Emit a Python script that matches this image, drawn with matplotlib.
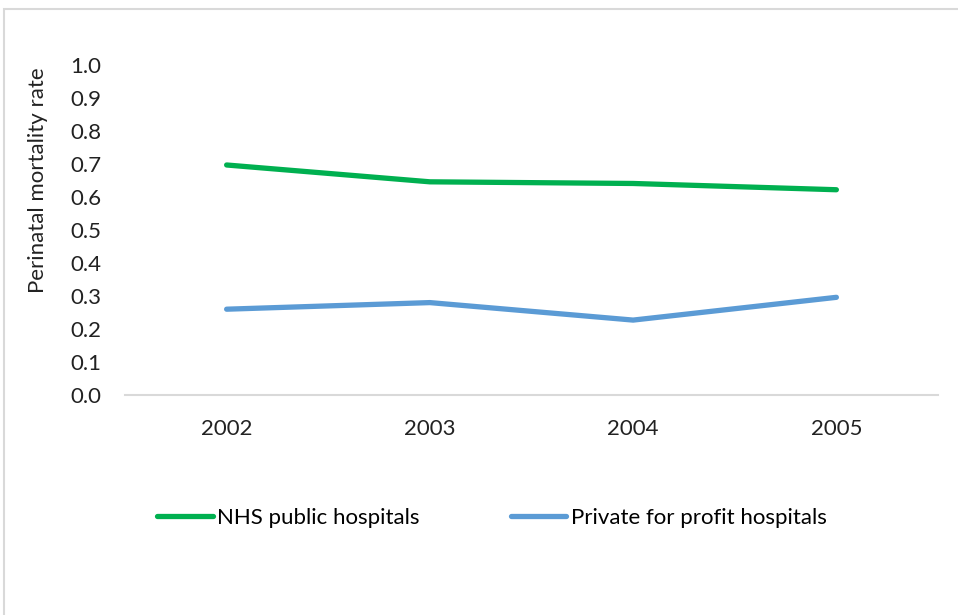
import matplotlib.pyplot as plt
from matplotlib.lines import Line2D
from matplotlib.patches import Rectangle

years = ['2002', '2003', '2004', '2005']
nhs = [0.697, 0.646, 0.641, 0.622]
private = [0.260, 0.280, 0.227, 0.296]
yticks = [0.0, 0.1, 0.2, 0.3, 0.4, 0.5, 0.6, 0.7, 0.8, 0.9, 1.0]

green = '#00B050'
blue = '#5B9BD5'
fs = 16

plt.rcParams['font.family'] = ['Lato', 'DejaVu Sans']

fig = plt.figure(figsize=(9.58, 6.15), dpi=100)
W, H = 958, 615

# outer chart border (light gray, runs off the bottom/right edge)
fig.patches.append(Rectangle((4 / W, -0.1), 1.2, 1 - 9 / H + 0.1, transform=fig.transFigure,
                             fill=False, edgecolor='#d9d9d9', linewidth=1.5))

ax = fig.add_axes([125 / W, 1 - 395 / H, (938 - 125) / W, (395 - 65) / H])
x = range(len(years))
ax.plot(x, nhs, color=green, linewidth=3.8, solid_capstyle='round', solid_joinstyle='round')
ax.plot(x, private, color=blue, linewidth=3.8, solid_capstyle='round', solid_joinstyle='round')

ax.set_xlim(-0.5, len(years) - 0.5)
ax.set_ylim(0, 1.0)
ax.set_xticks(list(x))
ax.set_xticklabels(years)
ax.set_yticks(yticks)
ax.set_yticklabels([f'{v:.1f}' for v in yticks])
ax.tick_params(length=0, labelsize=fs, colors='#222222')
ax.tick_params(axis='x', pad=17)
ax.tick_params(axis='y', pad=17)
for s in ['top', 'right', 'left']:
    ax.spines[s].set_visible(False)
ax.spines['bottom'].set_color('#d9d9d9')
ax.spines['bottom'].set_linewidth(1.5)

fig.text(38 / W, 1 - 180 / H, 'Perinatal mortality rate', rotation=90, ha='center', va='center',
         fontsize=fs, color='#222222')

handles = [Line2D([], [], color=green, linewidth=3.8, solid_capstyle='round'),
           Line2D([], [], color=blue, linewidth=3.8, solid_capstyle='round')]
fig.legend(handles, ['NHS public hospitals', 'Private for profit hospitals'],
           loc='center', bbox_to_anchor=(492 / W, 1 - 518 / H), ncol=2, frameon=False,
           fontsize=fs, handlelength=2.5, handletextpad=0.2, columnspacing=4.1)

fig.savefig('out.png', dpi=100)
